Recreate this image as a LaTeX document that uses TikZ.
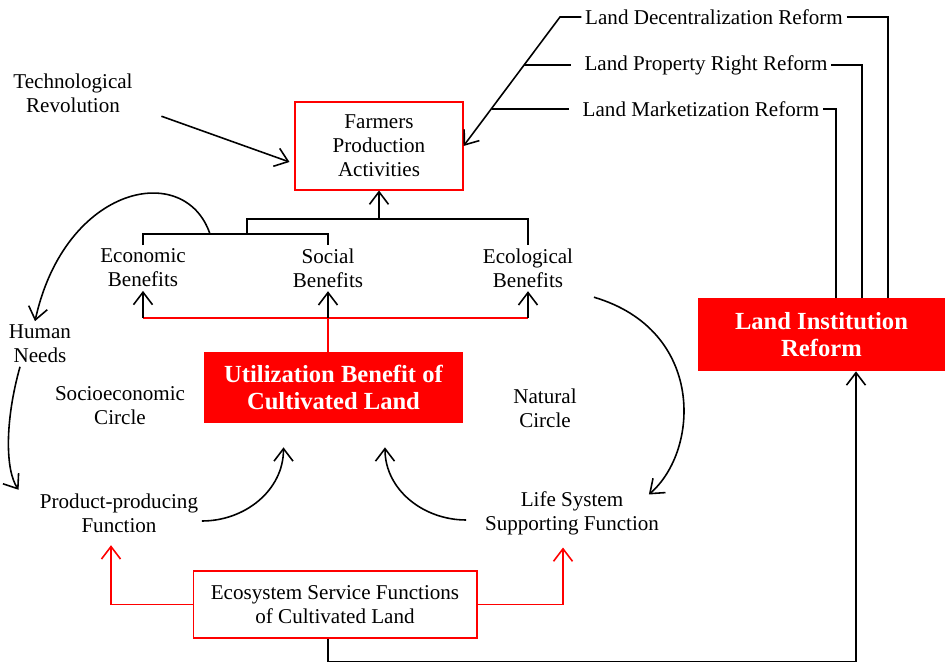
\documentclass[tikz,border=0pt]{standalone}
\usepackage{fontspec}
\setmainfont{Liberation Serif}
\usetikzlibrary{arrows.meta, positioning}

\begin{document}
\begin{tikzpicture}[
		x=0.02cm, y=-0.02cm,
		every node/.style={align=center, inner sep=2pt, font=\fontsize{12}{13.6}\selectfont},
		redbox/.style={draw=red, line width=0.6pt},
		fillbox/.style={fill=red, text=white, font=\fontsize{14}{15.5}\selectfont\bfseries},
		arrow/.style={-{Straight Barb[length=2.5mm, width=3.8mm]}, line width=0.9pt},
		redline/.style={red, line width=0.9pt}
	]
	
		\useasboundingbox (0,0) rectangle (946,665);
		
		% Boxes
		\node[redbox, minimum width=3.36cm, minimum height=1.76cm] (farmers) at (379,146) {Farmers\\Production\\Activities};
		\node[fillbox, minimum width=5.18cm, minimum height=1.42cm] (util) at (333.5,387.5) {Utilization Benefit of\\Cultivated Land};
		\node[fillbox, minimum width=4.94cm, minimum height=1.46cm] (lir) at (821.5,334.5) {Land Institution\\Reform};
		\node[redbox, minimum width=5.68cm, minimum height=1.34cm] (eco) at (335,604.5) {Ecosystem Service Functions\\of Cultivated Land};
		
		% Texts
		\node (tech) at (73,93) {Technological\\Revolution};
		\node (decent) at (714,17) {Land Decentralization Reform};
		\node (property) at (706,65) {Land Property Right Reform};
		\node (market) at (701,109) {Land Marketization Reform};
		\node (econ) at (143,268) {Economic\\Benefits};
		\node (social) at (328,268) {Social\\Benefits};
		\node (ecol) at (528,268) {Ecological\\Benefits};
		\node (human) at (40,344) {Human\\Needs};
		\node (socio) at (120,406) {Socioeconomic\\Circle};
		\node (natural) at (545,408) {Natural\\Circle};
		\node (product) at (119,513) {Product-producing\\Function};
		\node (life) at (572,513) {Life System\\Supporting Function};
		
		\coordinate (bend) at (decent.west -| 560,0);
		\coordinate (split) at (210,234);
		
		% Reforms
		\draw[line width=0.9pt] (decent.east) -| ([xshift=1.33cm]lir.north);
		\draw[line width=0.9pt] (property.east) -| ([xshift=0.81cm]lir.north);
		\draw[line width=0.9pt] (market.east) -| ([xshift=0.29cm]lir.north);
		\draw[arrow] (decent.west) -- (bend) -- (farmers.east);
		\draw[line width=0.9pt] ([xshift=-0.2cm]property.west) -- (property.west -| 524,0);
		\draw[line width=0.9pt] ([xshift=-0.2cm]market.west) -- (market.west -| 492,0);
		\draw[arrow] ([xshift=0.5cm]tech.south east) -- ([xshift=-0.1cm, yshift=-0.32cm]farmers.west);
		
		% Benefits
		\draw[line width=0.9pt] (econ.north) |- (social.north |- split) -- (social.north);
		\draw[line width=0.9pt] (247,234) |- (ecol.north |- 0,219) -- (ecol.north);
		\draw[arrow] (farmers.south |- 0,219) -- (farmers.south);
		\draw[redline] (social.south |- util.north) -- (social.south |- 0,318);
		\draw[redline] (econ.south |- 0,318) -- (ecol.south |- 0,318);
		\foreach \n in {econ, social, ecol}
			\draw[arrow] (\n.south |- 0,318) -- (\n.south);
		
		% Circles
		\draw[arrow] (split) .. controls (185,160) and (65,185) .. ([xshift=-0.1cm]human.north);
		\draw[arrow] ([xshift=-0.4cm]human.south) .. controls (5,420) and (5,470) .. ([xshift=-0.35cm]product.north west);
		\draw[arrow] ([yshift=-0.16cm]product.east) to[out=0, in=-90] ([xshift=-1cm, yshift=-0.48cm]util.south);
		\draw[arrow] ([xshift=-0.3cm, yshift=-0.14cm]life.west) to[out=180, in=-90] ([xshift=1.03cm, yshift=-0.48cm]util.south);
		\draw[arrow] ([xshift=0.34cm, yshift=-0.12cm]ecol.south east) .. controls (705,330) and (700,450) .. ([xshift=-0.28cm, yshift=-0.14cm]life.north east);
		
		% Ecosystem
		\draw[redline, arrow] (eco.west) -| ([xshift=-0.16cm, yshift=-0.18cm]product.south);
		\draw[redline, arrow] (eco.east) -| ([xshift=-0.18cm, yshift=-0.18cm]life.south);
		\draw[arrow] ([xshift=-0.14cm]eco.south) -- ++(0,23) -| ([xshift=0.69cm]lir.south);
		
	\end{tikzpicture}
\end{document}
